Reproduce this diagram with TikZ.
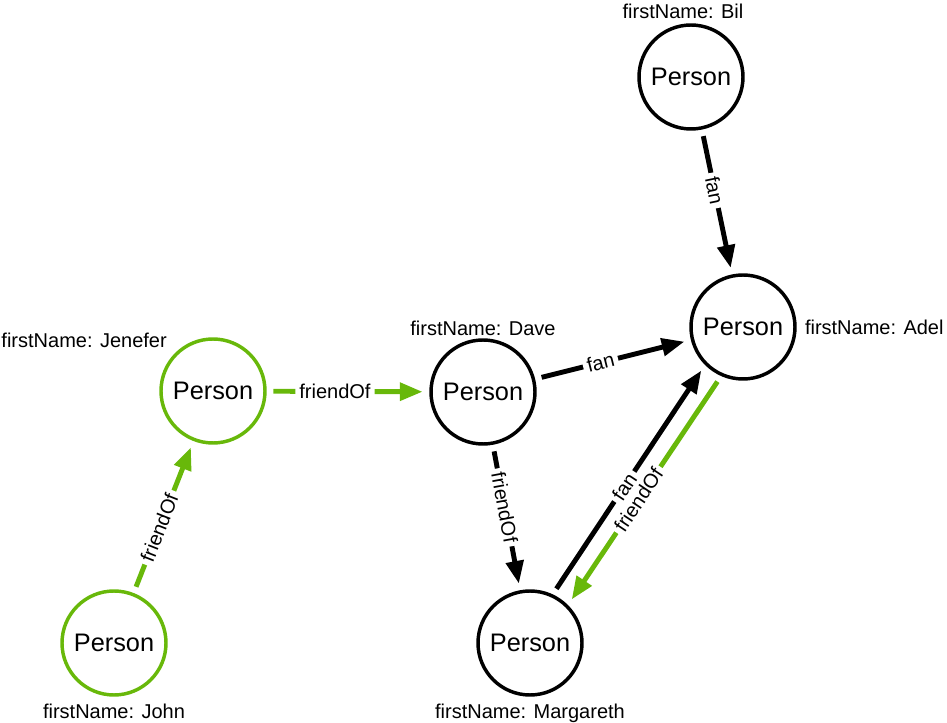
\documentclass[tikz,border=0pt]{standalone}
\usepackage{fontspec}
\setmainfont{Liberation Sans}
\usetikzlibrary{arrows.meta}
\usetikzlibrary{positioning}
\definecolor{friendgreen}{RGB}{104,184,10}

\begin{document}
\begin{tikzpicture}[x=0.75pt, y=-0.75pt, >={Triangle[length=17pt,width=13pt]}]
    % Define styles
    \tikzstyle{person} = [circle, draw, line width=2.6pt, minimum size=78pt, inner sep=0pt, font=\fontsize{19}{23}\selectfont]
    \tikzstyle{greenperson} = [person, draw=friendgreen]
    \tikzstyle{tag} = [inner sep=1pt, font=\fontsize{15}{18}\selectfont]
    \tikzstyle{link} = [draw, line width=3.7pt, ->, shorten >=5pt, shorten <=5pt]
    \tikzstyle{greenlink} = [link, draw=friendgreen]
    \tikzstyle{lbl} = [fill=white, inner xsep=3pt, inner ysep=0pt, sloped, font=\fontsize{15}{18}\selectfont]

    \useasboundingbox (0,0) rectangle (947,723);

    % Place nodes
    \node [person] (bil) at (691,77) {Person};
    \node [person] (adel) at (743,327) {Person};
    \node [greenperson] (jenefer) at (213,391) {Person};
    \node [person] (dave) at (483,392) {Person};
    \node [greenperson] (john) at (114,643) {Person};
    \node [person] (margareth) at (530,643) {Person};

    % Names
    \node [tag, above=2pt of bil, xshift=-6pt] (bilname) {firstName: Bil};
    \node [tag, right=5pt of adel] (adelname) {firstName: Adel};
    \node [tag, above left=2.8pt and 5pt of jenefer] (jenefername) {firstName: Jenefer};
    \node [tag, above=1pt of dave] (davename) {firstName: Dave};
    \node [tag, below=4pt of john] (johnname) {firstName: John};
    \node [tag, below=4pt of margareth] (margarethname) {firstName: Margareth};

    % Draw edges
    \path [link] (bil) -- node [lbl, pos=0.42] {fan} (adel);
    \path [link] (dave) -- node [lbl, pos=0.42] {fan} (adel);
    \path [greenlink] (jenefer) -- node [lbl, pos=0.42] {friendOf} (dave);
    \path [greenlink] (john) -- node [lbl, pos=0.43] {friendOf} (jenefer);
    \path [link] (dave) -- node [lbl, pos=0.43] {friendOf} (margareth);
    \path [link] (margareth.65) -- node [lbl, pos=0.47] {fan} (adel.225);
    \path [greenlink] (adel.246) -- node [lbl, pos=0.54] {friendOf} (margareth.45);

\end{tikzpicture}
\end{document}
